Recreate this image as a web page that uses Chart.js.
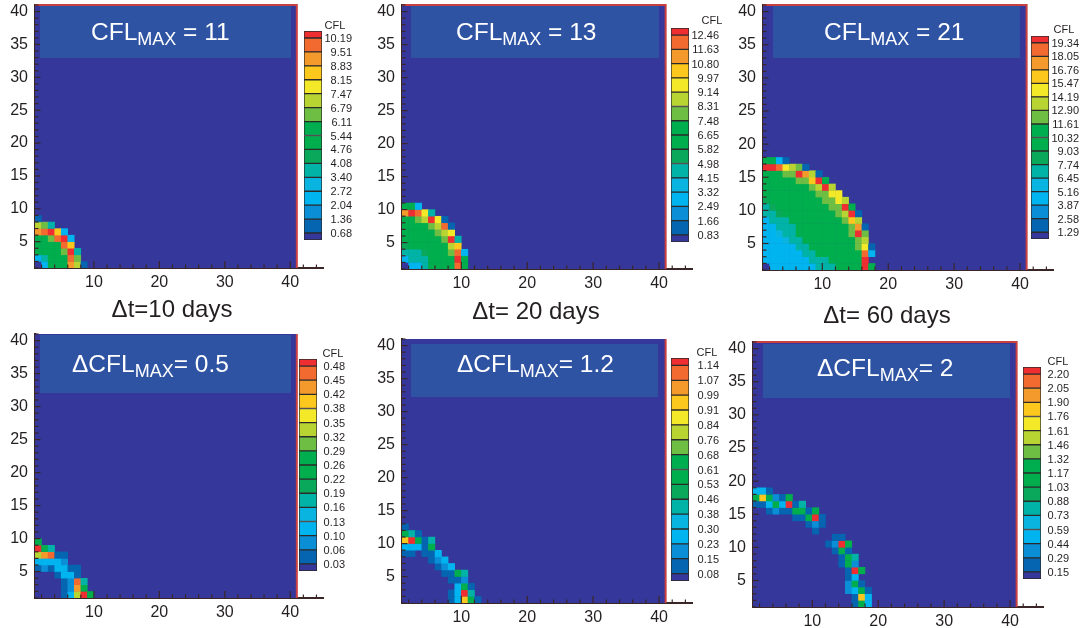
<!DOCTYPE html>
<html>
<head>
<meta charset="utf-8">
<title>CFL</title>
<script src="https://cdn.jsdelivr.net/npm/chart.js@4/dist/chart.umd.min.js"></script>
<style>
  html, body { margin: 0; background: #fff; }
  #page { position: relative; width: 1084px; height: 628px; overflow: hidden; font-family: "Liberation Sans", sans-serif; }
  #page canvas { position: absolute; }
  .box { position: absolute; background: #2f53a3; }
  .titulo { position: absolute; color: #fff; font-size: 24.5px; line-height: 30px; white-space: nowrap; z-index: 2; }
  .titulo sub { font-size: 18px; line-height: 0; vertical-align: -5px; }
  .caption { position: absolute; color: #231f20; font-size: 24px; line-height: 28px; white-space: nowrap; transform: translateX(-50%); }
  .cfl { position: absolute; color: #231f20; font-size: 11px; line-height: 12px; transform: translateX(-50%); }
</style>
</head>
<body>
<div id="page"></div>
<script>
/* ── DATA ─────────────────────────────────────────────────────── */

// colour bands of the legend, lowest first
const bandColors = ['#35379a', '#0565b0', '#0a8fd6', '#00b5ef', '#0ab4e0', '#00b3a6', '#0aa85a', '#00ae4d',
                    '#00ad4f', '#6fbe44', '#b8d433', '#f3e928', '#fdc81e', '#f49a2c', '#f26a30', '#ee2e30'];

// legend labels, top to bottom; each one sits on the edge between two bands
const legendA = ['10.19', '9.51', '8.83', '8.15', '7.47', '6.79', '6.11', '5.44', '4.76', '4.08', '3.40', '2.72', '2.04', '1.36', '0.68'];
const legendB = ['12.46', '11.63', '10.80', '9.97', '9.14', '8.31', '7.48', '6.65', '5.82', '4.98', '4.15', '3.32', '2.49', '1.66', '0.83'];
const legendC = ['19.34', '18.05', '16.76', '15.47', '14.19', '12.90', '11.61', '10.32', '9.03', '7.74', '6.45', '5.16', '3.87', '2.58', '1.29'];
const legendD = ['0.48', '0.45', '0.42', '0.38', '0.35', '0.32', '0.29', '0.26', '0.22', '0.19', '0.16', '0.13', '0.10', '0.06', '0.03'];
const legendE = ['1.14', '1.07', '0.99', '0.91', '0.84', '0.76', '0.68', '0.61', '0.53', '0.46', '0.38', '0.30', '0.23', '0.15', '0.08'];
const legendF = ['2.20', '2.05', '1.90', '1.76', '1.61', '1.46', '1.32', '1.17', '1.03', '0.88', '0.73', '0.59', '0.44', '0.29', '0.15'];

// cell bands: first list is row y=1, each list starts at column x=1, 0 = background
const cellsA = [
  [0, 3, 7, 7, 7, 13, 10, 1],
  [3, 5, 7, 7, 7, 14, 9],
  [7, 7, 7, 7, 9, 15, 5],
  [7, 7, 7, 7, 14, 12],
  [7, 7, 9, 14, 15, 3],
  [13, 14, 15, 12, 3],
  [10, 9, 5],
  [1],
];
const cellsB = [
  [0, 3, 3, 5, 7, 7, 7, 7, 14, 7],
  [3, 5, 5, 5, 7, 7, 7, 7, 15, 7],
  [5, 5, 5, 6, 7, 7, 7, 9, 14, 3],
  [6, 7, 7, 7, 7, 7, 7, 10, 12],
  [7, 7, 7, 7, 7, 7, 9, 15, 5],
  [7, 7, 7, 7, 7, 9, 10, 11],
  [7, 7, 7, 7, 9, 10, 14, 1],
  [7, 7, 9, 10, 15, 11, 1],
  [13, 15, 14, 11, 5],
  [7, 7, 3],
];
const cellsC = [
  [0, 3, 3, 3, 3, 3, 3, 3, 5, 5, 5, 7, 7, 7, 7, 15, 7],
  [3, 3, 3, 3, 3, 3, 3, 5, 5, 5, 7, 7, 7, 7, 7, 15],
  [3, 3, 3, 3, 3, 3, 5, 5, 7, 7, 7, 7, 7, 7, 7, 14, 3],
  [3, 3, 3, 3, 3, 5, 5, 7, 7, 7, 7, 7, 7, 7, 9, 11, 1],
  [3, 3, 3, 4, 5, 5, 7, 7, 7, 7, 7, 7, 7, 7, 9, 10],
  [3, 3, 4, 5, 5, 7, 7, 7, 7, 7, 7, 7, 7, 9, 15, 9],
  [3, 3, 5, 5, 5, 7, 7, 7, 7, 7, 7, 7, 7, 9, 13, 1],
  [3, 5, 5, 5, 7, 7, 7, 7, 7, 7, 7, 7, 9, 12, 10],
  [5, 5, 6, 7, 7, 7, 7, 7, 7, 7, 7, 9, 10, 15, 1],
  [5, 6, 7, 7, 7, 7, 7, 7, 7, 7, 9, 9, 15, 7],
  [6, 7, 7, 7, 7, 7, 7, 7, 7, 9, 9, 11, 10],
  [7, 7, 7, 7, 7, 7, 7, 7, 9, 9, 11, 11],
  [7, 7, 7, 7, 7, 7, 7, 9, 10, 15, 10],
  [7, 7, 7, 7, 7, 9, 9, 12, 15, 7],
  [7, 7, 7, 9, 9, 15, 13, 10, 1],
  [15, 15, 14, 11, 10, 9, 1],
  [7, 7, 3, 1],
];
const cellsD = [
  [0, 0, 0, 0, 1, 3, 10, 15, 7],
  [0, 0, 0, 0, 1, 2, 13, 7],
  [0, 0, 0, 0, 1, 2, 14, 5],
  [0, 0, 0, 1, 3, 3, 1],
  [1, 2, 1, 3, 3, 1, 1],
  [3, 3, 3, 3, 2],
  [10, 13, 14, 1, 1],
  [15, 7, 5],
  [7],
];
const cellsE = [
  [0, 0, 0, 0, 0, 0, 0, 1, 3, 12, 7, 1],
  [0, 0, 0, 0, 0, 0, 0, 1, 3, 15, 5],
  [0, 0, 0, 0, 0, 0, 0, 0, 3, 7, 1],
  [0, 0, 0, 0, 0, 0, 0, 1, 1, 2],
  [0, 0, 0, 0, 0, 0, 1, 1, 7, 5],
  [0, 0, 0, 0, 0, 1, 2, 3],
  [0, 0, 0, 0, 1, 2, 3],
  [1, 1, 0, 1, 1, 3],
  [3, 3, 3, 1, 7],
  [12, 15, 7, 1, 5],
  [7, 5, 1],
  [1],
];
const cellsF = [
  [0, 0, 0, 0, 0, 0, 0, 0, 0, 0, 0, 0, 0, 0, 0, 1, 7, 3],
  [0, 0, 0, 0, 0, 0, 0, 0, 0, 0, 0, 0, 0, 0, 0, 1, 12, 3],
  [0, 0, 0, 0, 0, 0, 0, 0, 0, 0, 0, 0, 0, 0, 2, 3, 7, 1],
  [0, 0, 0, 0, 0, 0, 0, 0, 0, 0, 0, 0, 0, 0, 2, 7, 1],
  [0, 0, 0, 0, 0, 0, 0, 0, 0, 0, 0, 0, 0, 0, 1, 3],
  [0, 0, 0, 0, 0, 0, 0, 0, 0, 0, 0, 0, 0, 0, 1, 15, 7],
  [0, 0, 0, 0, 0, 0, 0, 0, 0, 0, 0, 0, 0, 1, 7, 2],
  [0, 0, 0, 0, 0, 0, 0, 0, 0, 0, 0, 0, 0, 1, 7, 5],
  [0, 0, 0, 0, 0, 0, 0, 0, 0, 0, 0, 0, 1, 7, 1],
  [0, 0, 0, 0, 0, 0, 0, 0, 0, 0, 0, 1, 2, 15, 7],
  [0, 0, 0, 0, 0, 0, 0, 0, 0, 0, 0, 0, 1, 1],
  [0, 0, 0, 0, 0, 0, 0, 0, 0, 1],
  [0, 0, 0, 0, 0, 0, 0, 0, 1, 2, 1],
  [0, 0, 0, 0, 0, 0, 1, 1, 7, 15, 1],
  [0, 0, 1, 2, 1, 1, 7, 7, 1, 7],
  [1, 1, 3, 7, 3, 15, 1, 5],
  [7, 12, 7, 2, 1, 7],
  [3, 3, 1],
];

// axis ticks
const xTickValues = [2, 4, 6, 8, 10, 12, 14, 16, 18, 20, 22, 24, 26, 28, 30, 32, 34, 36, 38, 40, 42, 44];
const yTickValues = [1, 2, 3, 4, 5, 6, 7, 8, 9, 10, 11, 12, 13, 14, 15, 16, 17, 18, 19, 20, 21,
                     22, 23, 24, 25, 26, 27, 28, 29, 30, 31, 32, 33, 34, 35, 36, 37, 38, 39, 40, 41];

const captions = [
  { text: 'Δt=10 days', x: 172, y: 295 },
  { text: 'Δt= 20 days', x: 536, y: 297 },
  { text: 'Δt= 60 days', x: 887, y: 301 },
];

/* ── LAYOUT ───────────────────────────────────────────────────── */
const AXIS_COLOR = '#3a2626';
const RED_EDGE = '#c8403f';
const PLOT_BG = '#35379a';

const panels = [
  { cells: cellsA, legend: legendA, left: 35, top: 5, w: 262, h: 263, redTop: true,
    box: [40, 6, 251, 52], title: 'CFL<sub>MAX</sub> = 11', tx: 91, ty: 17,
    bar: [304, 31, 18, 209], labelRight: 352, cfl: [335, 19] },
  { cells: cellsB, legend: legendB, left: 402, top: 5, w: 264, h: 264, redTop: true,
    box: [411, 6, 248, 52], title: 'CFL<sub>MAX</sub> = 13', tx: 456, ty: 17,
    bar: [671, 28, 18, 214], labelRight: 719, cfl: [712, 14] },
  { cells: cellsC, legend: legendC, left: 763, top: 5, w: 264, h: 265, redTop: true,
    box: [773, 6, 247, 52], title: 'CFL<sub>MAX</sub> = 21', tx: 824, ty: 17,
    bar: [1031, 36, 18, 203], labelRight: 1079, cfl: [1064, 23] },
  { cells: cellsD, legend: legendD, left: 35, top: 334, w: 262, h: 264, redTop: false,
    box: [40, 335, 251, 58], title: 'ΔCFL<sub>MAX</sub>= 0.5', tx: 72, ty: 349,
    bar: [299, 359, 18, 212], labelRight: 345, cfl: [333, 347] },
  { cells: cellsE, legend: legendE, left: 402, top: 339, w: 264, h: 264, redTop: false,
    box: [411, 344, 247, 53], title: 'ΔCFL<sub>MAX</sub>= 1.2', tx: 457, ty: 349,
    bar: [671, 358, 18, 223], labelRight: 719, cfl: [707, 346] },
  { cells: cellsF, legend: legendF, left: 753, top: 342, w: 264, h: 265, redTop: true,
    box: [763, 344, 247, 54], title: 'ΔCFL<sub>MAX</sub>= 2', tx: 817, ty: 353,
    bar: [1023, 367, 18, 212], labelRight: 1069, cfl: [1058, 355] },
];

/* ── PLUGIN: plot background, edges and inward tick marks ───── */
const plotDecor = {
  id: 'plotDecor',
  beforeDatasetsDraw(chart) {
    const { ctx, scales: { x, y } } = chart;
    ctx.save();
    ctx.fillStyle = PLOT_BG;
    ctx.fillRect(x.getPixelForValue(1), y.getPixelForValue(41),
                 x.getPixelForValue(41) - x.getPixelForValue(1), y.getPixelForValue(1) - y.getPixelForValue(41));
    ctx.restore();
  },
  afterDraw(chart, args, opts) {
    const { ctx, scales: { x, y } } = chart;
    const x0 = x.getPixelForValue(1), x1 = x.getPixelForValue(41);
    const y0 = y.getPixelForValue(1), y1 = y.getPixelForValue(41);
    ctx.save();
    ctx.strokeStyle = RED_EDGE;
    ctx.lineWidth = 2;
    ctx.beginPath();
    if (opts.redTop) { ctx.moveTo(x0, y1); ctx.lineTo(x1, y1); } else { ctx.moveTo(x1, y1); }
    ctx.lineTo(x1, y0);
    ctx.stroke();

    ctx.strokeStyle = AXIS_COLOR;
    ctx.lineWidth = 1.2;
    x.ticks.forEach(t => {
      const px = x.getPixelForValue(t.value);
      const len = t.value % 10 === 0 ? 7 : 3.5;
      ctx.beginPath(); ctx.moveTo(px, y0); ctx.lineTo(px, y0 - len); ctx.stroke();
    });
    y.ticks.forEach(t => {
      const py = y.getPixelForValue(t.value);
      const len = t.value % 5 === 0 ? 5.5 : 3.5;
      ctx.beginPath(); ctx.moveTo(x0, py); ctx.lineTo(x0 + len, py); ctx.stroke();
    });
    ctx.restore();
  },
};

// a fixed axis box, so the plot lands where the layout table says
function fixBox(scale, prop, size) {
  scale[prop] = size;
  scale.paddingLeft = scale.paddingRight = scale.paddingTop = scale.paddingBottom = 0;
}

function addCanvas(page, left, top, width, height) {
  const c = document.createElement('canvas');
  c.width = width;
  c.height = height;
  c.style.left = left + 'px';
  c.style.top = top + 'px';
  page.appendChild(c);
  return c;
}

function addDiv(page, cls, html, left, top) {
  const d = document.createElement('div');
  d.className = cls;
  d.innerHTML = html;
  d.style.left = left + 'px';
  d.style.top = top + 'px';
  page.appendChild(d);
  return d;
}

/* ── HEAT MAP ─────────────────────────────────────────────────── */
function renderPlot(page, p) {
  const points = [], colors = [];
  p.cells.forEach((row, r) => row.forEach((band, c) => {
    if (band === 0) return;
    points.push({ x: c + 1.5, y: r + 1.5 });
    colors.push(bandColors[band]);
  }));

  const unit = p.w / 40;
  const padTop = 5, padRight = 6, yBox = 35, xBox = 30;
  const width = Math.round(yBox + unit * 44 + padRight);
  const height = padTop + p.h + xBox;
  const canvas = addCanvas(page, p.left - yBox, p.top - padTop, width, height);

  new Chart(canvas, {
    type: 'scatter',
    data: { datasets: [{ data: points, backgroundColor: colors, borderWidth: 0, pointStyle: 'rect',
      pointRadius: ctx => (ctx.chart.scales.x.getPixelForValue(2) - ctx.chart.scales.x.getPixelForValue(1) + 0.5) / Math.SQRT2,
      pointHoverRadius: 0 }] },
    options: {
      responsive: false,
      animation: false,
      events: [],
      layout: { padding: { top: padTop, right: padRight, left: 0, bottom: 0 } },
      plugins: { legend: { display: false }, tooltip: { enabled: false }, plotDecor: { redTop: p.redTop } },
      scales: {
        x: {
          type: 'linear', min: 1, max: 45,
          afterBuildTicks: s => { s.ticks = xTickValues.map(v => ({ value: v })); },
          afterFit: s => fixBox(s, 'height', xBox),
          grid: { display: false, drawTicks: false },
          border: { color: AXIS_COLOR, width: 2 },
          ticks: { autoSkip: false, maxRotation: 0, padding: 5, color: '#231f20',
            font: { family: 'Liberation Sans', size: 16 },
            callback: v => (v % 10 === 0 ? String(v) : '') },
        },
        y: {
          type: 'linear', min: 1, max: 41,
          afterBuildTicks: s => { s.ticks = yTickValues.map(v => ({ value: v })); },
          afterFit: s => fixBox(s, 'width', yBox),
          grid: { display: false, drawTicks: false },
          border: { color: AXIS_COLOR, width: 2 },
          ticks: { autoSkip: false, padding: 7, color: '#231f20',
            font: { family: 'Liberation Sans', size: 16 },
            callback: v => (v % 5 === 0 ? String(v) : '') },
        },
      },
    },
    plugins: [plotDecor],
  });
}

/* ── COLOUR BAR ───────────────────────────────────────────────── */
function renderLegend(page, p) {
  const [bx, by, bw, bh] = p.bar;
  const labelBox = p.labelRight - (bx + bw);
  const canvas = addCanvas(page, bx, by, bw + labelBox, bh);
  const count = p.legend.length;
  // scale position k = edge labelled legend[count - k]; end bands are half as tall
  const datasets = bandColors.map((color, i) => ({
    data: [[Math.max(i, 0.5), Math.min(i + 1, count + 0.5)]],
    backgroundColor: color,
    borderColor: '#2b2b2b',
    borderWidth: 1,
    borderSkipped: false,
    barPercentage: 1,
    categoryPercentage: 1,
    grouped: false,
  }));
  new Chart(canvas, {
    type: 'bar',
    data: { labels: ['CFL'], datasets },
    options: {
      responsive: false,
      animation: false,
      events: [],
      layout: { padding: 0 },
      plugins: { legend: { display: false }, tooltip: { enabled: false } },
      scales: {
        x: { display: false },
        y: {
          type: 'linear', position: 'right', min: 0.5, max: count + 0.5,
          afterBuildTicks: s => { s.ticks = p.legend.map((_, i) => ({ value: count - i })); },
          afterFit: s => fixBox(s, 'width', labelBox),
          grid: { display: false, drawTicks: false },
          border: { display: false },
          ticks: { autoSkip: false, padding: 2, crossAlign: 'far', labelOffset: 1, color: '#231f20',
            font: { family: 'Liberation Sans', size: 11 },
            callback: v => p.legend[count - v] },
        },
      },
    },
  });
}

/* ── INICIALIZAR ──────────────────────────────────────────────── */
document.addEventListener('DOMContentLoaded', () => {
  const page = document.getElementById('page');
  panels.forEach(p => {
    renderPlot(page, p);
    renderLegend(page, p);
    const b = addDiv(page, 'box', '', p.box[0], p.box[1]);
    b.style.width = p.box[2] + 'px';
    b.style.height = p.box[3] + 'px';
    addDiv(page, 'titulo', p.title, p.tx, p.ty);
    addDiv(page, 'cfl', 'CFL', p.cfl[0], p.cfl[1]);
  });
  captions.forEach(c => addDiv(page, 'caption', c.text, c.x, c.y));
});
</script>
</body>
</html>
